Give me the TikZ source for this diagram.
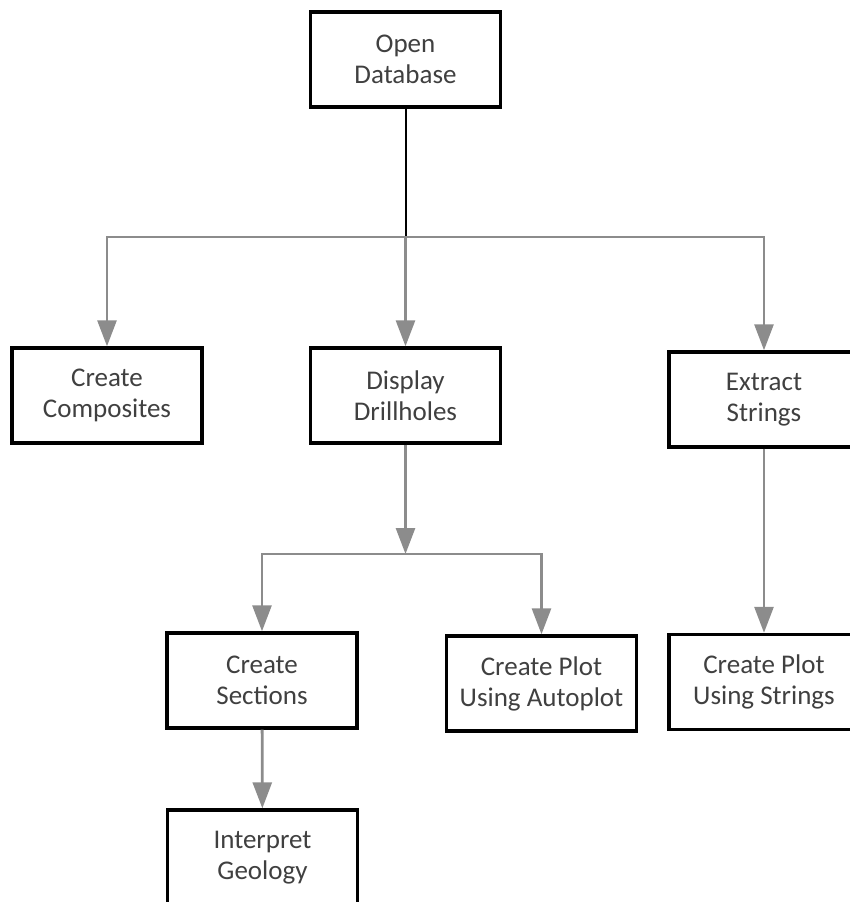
\documentclass[tikz,border=0pt]{standalone}
\usepackage{fontspec}
\setmainfont{Carlito}
\usetikzlibrary{arrows.meta}
\definecolor{flowgrey}{RGB}{140,140,140}
\definecolor{textgrey}{RGB}{64,64,64}

\begin{document}
\begin{tikzpicture}
      [x=0.5pt,y=-0.5pt,
       every node/.style={draw,line width=1.7pt,fill=white,align=center,
         minimum width=95pt,minimum height=47.5pt,inner sep=0pt,
         text=textgrey,font=\fontsize{13.5}{15.5}\selectfont},
       flow/.style={draw=flowgrey,line width=1.4pt,
         -{Triangle[length=13pt,width=9.5pt]}}]
      \clip (0,0) rectangle (850,902);
      \useasboundingbox (0,0) rectangle (850,902);

      \node (db) at (405.5,59.5) {Open\\Database};
      \node (comp) at (107,395.5) {Create\\Composites};
      \node (drill) at (405.5,395.5) {Display\\Drillholes};
      \node (extract) at (764,399.5) {Extract\\Strings};
      \node (sect) at (262,680.5) {Create\\Sections};
      \node (auto) at (541.5,683.5) {Create Plot\\Using Autoplot};
      \node (plotstr) at (764,682) {Create Plot\\Using Strings};
      \node (geol) at (262.5,857.5) {Interpret\\Geology};

      \coordinate (split1) at (405.5,237);
      \coordinate (split2) at (405.5,554);

      \draw [line width=1pt] (db) -- (split1);
      \foreach \to in {comp, extract}
      \draw [flow] (split1) -| (\to);
      \draw [flow] (split1) -- (drill);

      \draw [flow] (drill) -- (split2);
      \foreach \to in {sect, auto}
      \draw [flow] (split2) -| (\to);

      \draw [flow] (extract) -- (plotstr);
      \draw [flow] (sect) -- (geol);
    \end{tikzpicture}
\end{document}
